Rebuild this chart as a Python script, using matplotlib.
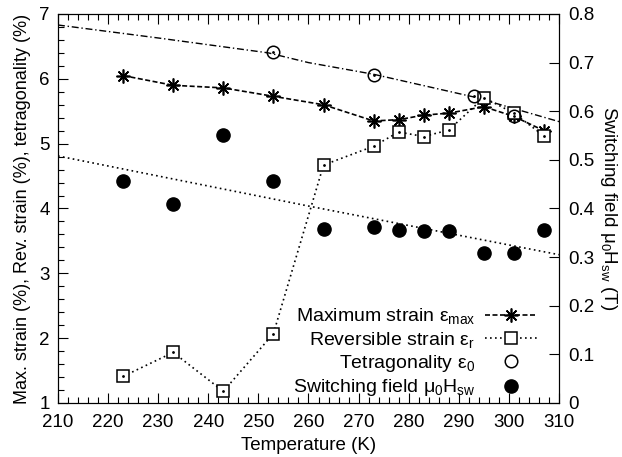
import matplotlib
matplotlib.use("Agg")
import matplotlib.pyplot as plt
import numpy as np

plt.rcParams['font.family'] = ['Liberation Sans', 'DejaVu Sans']
plt.rcParams['mathtext.fontset'] = 'custom'
plt.rcParams['mathtext.rm'] = 'Liberation Sans'
plt.rcParams['mathtext.it'] = 'Liberation Sans:italic'

# Data
temp = [223, 233, 243, 253, 263, 273, 278, 283, 288, 295, 301, 307]
max_strain = [6.05, 5.90, 5.86, 5.73, 5.60, 5.35, 5.37, 5.44, 5.47, 5.57, 5.42, 5.20]
rev_strain = [1.41, 1.78, 1.18, 2.07, 4.67, 4.96, 5.18, 5.11, 5.21, 5.71, 5.47, 5.12]

tet_temp = [253, 273, 293, 301]
tetragonality = [6.41, 6.06, 5.74, 5.42]

sw_field = [0.457, 0.409, 0.552, 0.456, 0.357, 0.362, 0.356, 0.354, 0.354, 0.308, 0.308, 0.355]

# guide lines
tet_fit_T = [210, 230, 252, 260, 273, 293, 310]
tet_fit = [6.83, 6.63, 6.40, 6.25, 6.07, 5.72, 5.34]
sw_fit_T = [210, 260, 310]
sw_fit = [0.508, 0.405, 0.305]

fig = plt.figure(figsize=(6.22, 4.57), dpi=100)
ax = fig.add_axes([0.0932, 0.1182, 0.8055, 0.8512])
ax2 = ax.twinx()

ax.plot(tet_fit_T, tet_fit, color='black', lw=1.0, ls=(0, (5, 2, 1, 2)))
ax2.plot(sw_fit_T, sw_fit, color='black', lw=1.2, ls=(0, (1, 2)))

l1, = ax.plot(temp, max_strain, color='black', lw=1.2, ls=(0, (3, 1.5)),
              marker=(8, 2, 0), ms=10, mew=1.2, label='Maximum strain ε$_\\mathregular{max}$')
l2, = ax.plot(temp, rev_strain, color='black', lw=1.2, ls=(0, (1, 2)),
              marker='s', ms=8.7, mfc='white', mew=1.1, label='Reversible strain ε$_\\mathregular{r}$')
ax.plot(temp, rev_strain, ls='none', marker='.', ms=2, color='black')
l3, = ax.plot(tet_temp, tetragonality, ls='none', marker='o', ms=9, mfc='none',
              mec='black', mew=1.1, label='Tetragonality ε$_\\mathregular{0}$')
ax.plot(tet_temp, tetragonality, ls='none', marker='.', ms=2, color='black')
l4, = ax2.plot(temp, sw_field, ls='none', marker='o', ms=9.5, color='black',
               label='Switching field μ$_\\mathregular{0}$H$_\\mathregular{sw}$')

ax.set_xlim(210, 310)
ax.set_ylim(1, 7)
ax2.set_ylim(0, 0.8)

ax.set_xticks(np.arange(210, 311, 10))
ax.set_xticks(np.arange(210, 311, 2), minor=True)
ax.set_yticks(np.arange(1, 7.1, 1))
ax.set_yticks(np.arange(1, 7.01, 0.2), minor=True)
ax2.set_yticks(np.arange(0, 0.81, 0.1))
ax2.set_yticklabels(['0', '0.1', '0.2', '0.3', '0.4', '0.5', '0.6', '0.7', '0.8'])

ax.tick_params(which='both', direction='in', top=True, right=False, labelsize=13.5)
ax.tick_params(which='major', length=7, width=0.8)
ax.tick_params(which='minor', length=4, width=0.8)
ax.tick_params(axis='x', pad=8)
ax.tick_params(axis='y', pad=6)
ax2.tick_params(direction='in', length=7, width=0.8, labelsize=13.5, pad=7)

ax.set_xlabel('Temperature (K)', fontsize=13.5, labelpad=4)
ax.set_ylabel('Max. strain (%), Rev. strain (%), tetragonality (%)', fontsize=13, labelpad=6)
ax2.set_ylabel('Switching field μ$_\\mathregular{0}$H$_\\mathregular{sw}$ (T)', fontsize=13.5,
               rotation=-90, labelpad=17)

leg = ax.legend(handles=[l1, l2, l3, l4], loc='lower right', bbox_to_anchor=(0.992, -0.033),
                frameon=False, markerfirst=False, numpoints=1, fontsize=14,
                handlelength=2.7, handletextpad=0.5, labelspacing=0.17)

fig.savefig('out.png', dpi=100)
